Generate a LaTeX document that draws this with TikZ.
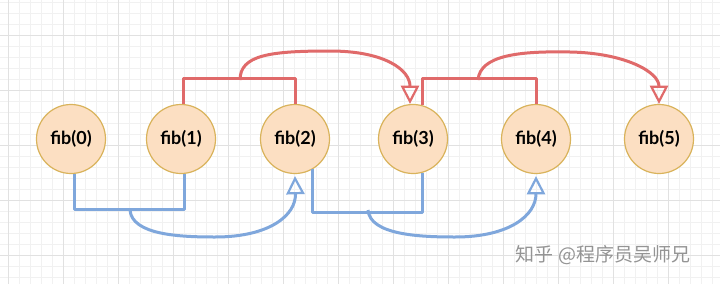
\documentclass[tikz,border=0pt]{standalone}
\usepackage{fontspec}
\setmainfont{Lato}
\newfontfamily\cjk{Noto Sans CJK SC}
\usetikzlibrary{calc,arrows.meta}

\definecolor{fibfill}{HTML}{FCDFC2}
\definecolor{fibline}{HTML}{D9B35B}
\definecolor{upred}{HTML}{E06A6A}
\definecolor{downblue}{HTML}{7FA7DC}
\definecolor{gridminor}{HTML}{F1F1F1}
\definecolor{gridmajor}{HTML}{E1E1E1}

\tikzset{
  fib/.style={circle, draw=fibline, fill=fibfill, line width=1.2pt,
    minimum size=69pt, inner sep=0pt, font=\fontsize{18}{20}\selectfont\bfseries},
  redline/.style={draw=upred, line width=3pt, line join=round},
  blueline/.style={draw=downblue, line width=3pt, line join=round},
  tip/.style={-{Triangle[open, length=14pt, width=14pt, line width=2.2pt, scale=1.3]}}
}

\begin{document}
\begin{tikzpicture}[x=1pt, y=-1pt]
        \useasboundingbox (0,0) rectangle (720,284);
        \fill[white] (0,0) rectangle (720,284);
        % grid
        \foreach \i in {0,...,65} {
          \draw[gridminor, line width=0.6pt] (8+11*\i-11,0) -- (8+11*\i-11,284);
        }
        \foreach \i in {0,...,26} {
          \draw[gridminor, line width=0.6pt] (0,35+11*\i-44) -- (720,35+11*\i-44);
        }
        \foreach \i in {0,...,13} {
          \draw[gridmajor, line width=0.8pt] (8+55*\i,0) -- (8+55*\i,284);
        }
        \foreach \i in {0,...,5} {
          \draw[gridmajor, line width=0.8pt] (0,35+55*\i-55) -- (720,35+55*\i-55);
        }

        \node[fib](f0) at (71,139) {fib(0)};
        \node[fib](f1) at (181,139) {fib(1)};
        \node[fib](f2) at (295,139) {fib(2)};
        \node[fib](f3) at (413,139) {fib(3)};
        \node[fib](f4) at (536,139) {fib(4)};
        \node[fib](f5) at (659,139) {fib(5)};

        % upper brackets
        \draw[redline] ([xshift=2pt]f1.north) -- ++(0,-25) -| (f2.north);
        \draw[redline] (f3.75) |- ([yshift=25pt]f4.north) -- (f4.north);
        \coordinate(j1) at (240,80);
        \coordinate(j2) at (478,80);
        \draw[redline, tip] (j1) .. controls (240,55) and (270,51) .. (330,51)
            .. controls (385,51) and (410,70) .. ([xshift=-3pt]f3.north);
        \draw[redline, tip] (j2) .. controls (480,55) and (520,51) .. (570,52)
            .. controls (625,53) and (659,72) .. (f5.north);

        % lower brackets
        \draw[blueline] ([xshift=3pt]f0.south) -- ++(0,35) -| ([xshift=3pt]f1.south);
        \draw[blueline] (f2.-60) |- ([yshift=-40pt]f3.-75) -- (f3.-75);
        \coordinate(j3) at (130,210);
        \coordinate(j4) at (368,210);
        \draw[blueline, tip] (j3) .. controls (132,235) and (180,237) .. (215,237)
            .. controls (270,237) and (296,215) .. ([yshift=-2pt]f2.south);
        \draw[blueline, tip] (j4) .. controls (370,235) and (420,237) .. (455,237)
            .. controls (510,237) and (536,215) .. ([yshift=-2pt]f4.south);

        \node[text=black!42, font=\cjk\fontsize{19}{21}\selectfont](mark) at (603,255) {知乎 @程序员吴师兄};
\end{tikzpicture}
\end{document}
